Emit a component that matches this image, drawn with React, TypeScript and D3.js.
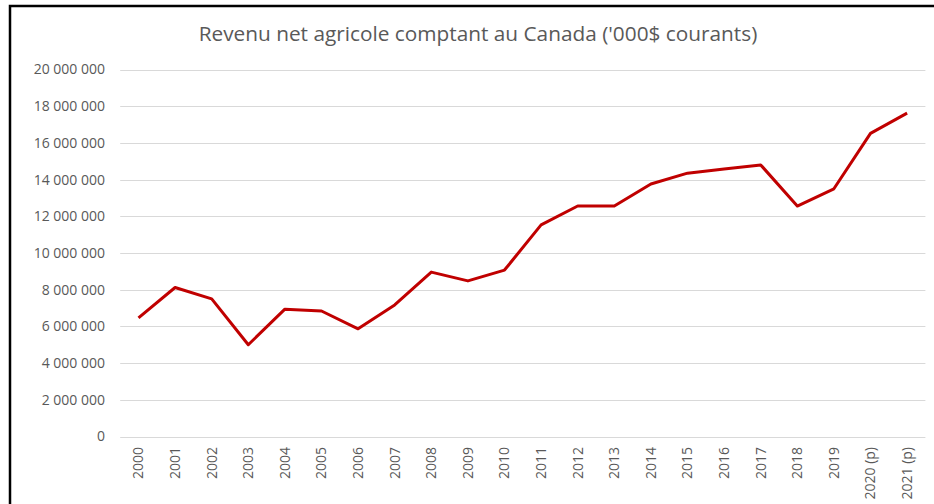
import React from "react";
import * as d3 from "d3";

const categories = ["2000","2001","2002","2003","2004","2005","2006","2007","2008","2009","2010","2011","2012","2013","2014","2015","2016","2017","2018","2019","2020 (p)","2021 (p)"];
const values = [6460000, 8120000, 7500000, 5000000, 6940000, 6840000, 5870000, 7170000, 8960000, 8480000, 9070000, 11530000, 12560000, 12560000, 13760000, 14350000, 14580000, 14800000, 12560000, 13500000, 16520000, 17620000];
const yTicks = [0, 2000000, 4000000, 6000000, 8000000, 10000000, 12000000, 14000000, 16000000, 18000000, 20000000];
const title = "Revenu net agricole comptant au Canada ('000$ courants)";

const W = 934, H = 504;
const FONT = "'Open Sans', sans-serif";

export default function App() {
  const x = d3.scaleBand<string>().domain(categories).range([120.2, 925.4]).padding(0);
  const y = d3.scaleLinear().domain([0, 20000000]).range([436.5, 69.5]);
  const fmt = (v: number) => d3.format(",")(v).replace(/,/g, " ");
  const line = d3.line<number>()
    .x((_, i) => (x(categories[i]) as number) + x.bandwidth() / 2)
    .y((d) => y(d));
  return (
    <svg width={W} height={H} style={{ position: "fixed", left: 0, top: 0, background: "#fff" }}>
      <rect x={0} y={0} width={W} height={H} fill="#fff" />
      <rect x={10} y={6} width={W + 20} height={H + 20} fill="none" stroke="#000" strokeWidth={2.5} />
      <text x={478} y={41} textAnchor="middle" fontFamily={FONT} fontSize={20.8} fill="#595959">{title}</text>
      {yTicks.map((t) => (
        <g key={t}>
          <line x1={120.2} x2={925.4} y1={Math.round(y(t)) + 0.5} y2={Math.round(y(t)) + 0.5} stroke="#d9d9d9" strokeWidth={1} />
          <text x={105} y={y(t)} dy="0.35em" textAnchor="end" fontFamily={FONT} fontSize={14} fill="#595959">{fmt(t)}</text>
        </g>
      ))}
      {categories.map((c) => {
        const cx = (x(c) as number) + x.bandwidth() / 2;
        return (
          <text key={c} transform={`translate(${cx},447) rotate(-90)`} textAnchor="end" dy="0.35em" fontFamily={FONT} fontSize={14} fill="#595959">{c}</text>
        );
      })}
      <path d={line(values) || ""} fill="none" stroke="#C00000" strokeWidth={3} strokeLinejoin="round" />
    </svg>
  );
}
